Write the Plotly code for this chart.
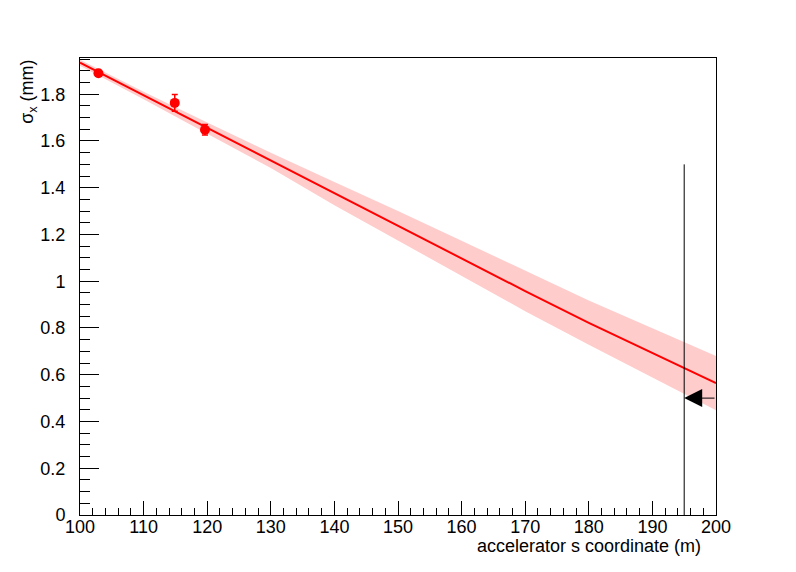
import plotly.graph_objects as go

# measured points
pt_s = [102.9, 114.9, 119.65]
pt_sigma = [1.890, 1.763, 1.648]
pt_err = [0.012, 0.036, 0.022]

# fit line and confidence band
fit_s = [100, 110, 120, 130, 140, 150, 160, 170, 180, 190, 200]
fit_sigma = [1.935, 1.795, 1.655, 1.517, 1.375, 1.237, 1.098, 0.958, 0.822, 0.694, 0.564]
band_upper = [1.948, 1.811, 1.679, 1.550, 1.425, 1.301, 1.173, 1.045, 0.918, 0.799, 0.680]
band_lower = [1.922, 1.779, 1.631, 1.484, 1.325, 1.173, 1.023, 0.872, 0.728, 0.589, 0.448]

# marker line and arrow
marker_s = [195, 195]
marker_y = [0, 1.5]
arrow_from_s = 200
arrow_to_s = 195
arrow_y = 0.5

x_range = [100, 200]
y_range = [0, 1.955]
x_ticks = [100, 110, 120, 130, 140, 150, 160, 170, 180, 190, 200]
y_ticks = [0, 0.2, 0.4, 0.6, 0.8, 1.0, 1.2, 1.4, 1.6, 1.8]
y_ticktext = ["0", "0.2", "0.4", "0.6", "0.8", "1", "1.2", "1.4", "1.6", "1.8"]

FONT = "Liberation Sans, Arial, Helvetica, sans-serif"

fig = go.Figure()
fig.add_trace(go.Scatter(x=fit_s, y=band_lower, mode="lines", line=dict(width=0, color="#FFCCCC"),
                         showlegend=False, hoverinfo="skip"))
fig.add_trace(go.Scatter(x=fit_s, y=band_upper, mode="lines", line=dict(width=0, color="#FFCCCC"),
                         fill="tonexty", fillcolor="#FFCCCC", showlegend=False, hoverinfo="skip"))
fig.add_trace(go.Scatter(x=fit_s, y=fit_sigma, mode="lines", line=dict(width=2, color="#FF0000"),
                         showlegend=False))
fig.add_trace(go.Scatter(x=pt_s, y=pt_sigma, mode="markers",
                         marker=dict(color="#FF0000", size=10, symbol="circle"),
                         error_y=dict(type="data", array=pt_err, color="#FF0000", thickness=1.5, width=3),
                         showlegend=False))
fig.add_trace(go.Scatter(x=marker_s, y=marker_y, mode="lines", line=dict(width=1, color="black"),
                         showlegend=False))

fig.add_annotation(x=arrow_to_s, y=arrow_y, ax=arrow_from_s, ay=arrow_y, xref="x", yref="y",
                   axref="x", ayref="y", showarrow=True, arrowhead=2, arrowsize=3.6,
                   arrowwidth=1, arrowcolor="black", standoff=0, text="")

fig.add_annotation(text="σ<sub>x</sub> (mm)", textangle=-90, xref="paper", yref="paper",
                   x=-0.082, y=1.0, xanchor="center", yanchor="top", showarrow=False,
                   font=dict(family=FONT, size=18, color="black"))
fig.add_annotation(text="accelerator s coordinate (m)", xref="paper", yref="paper",
                   x=0.9796, y=-0.068, xanchor="right", yanchor="middle", showarrow=False,
                   font=dict(family=FONT, size=18, color="black"))

axis_common = dict(showgrid=False, zeroline=False, showline=True, linecolor="black", linewidth=1,
                   mirror=True, ticks="inside", tickcolor="black", tickwidth=1,
                   tickfont=dict(family=FONT, size=18, color="black"))
fig.update_xaxes(range=x_range, tickvals=x_ticks, ticklen=14, ticklabelstandoff=-5,
                 minor=dict(dtick=2, ticklen=7, ticks="inside", tickcolor="black", tickwidth=1),
                 **axis_common)
fig.update_yaxes(range=y_range, tickvals=y_ticks, ticktext=y_ticktext, ticklen=19,
                 ticklabelstandoff=10,
                 minor=dict(dtick=0.05, ticklen=10, ticks="inside", tickcolor="black", tickwidth=1),
                 **axis_common)

# page body has an 8px margin: shrink the figure so the frame lands on the reference pixels
fig.update_layout(width=788, height=564, margin=dict(l=72, r=80, t=50, b=57),
                  paper_bgcolor="white", plot_bgcolor="white", showlegend=False,
                  font=dict(family=FONT, color="black"))

fig.write_html("out.html")
